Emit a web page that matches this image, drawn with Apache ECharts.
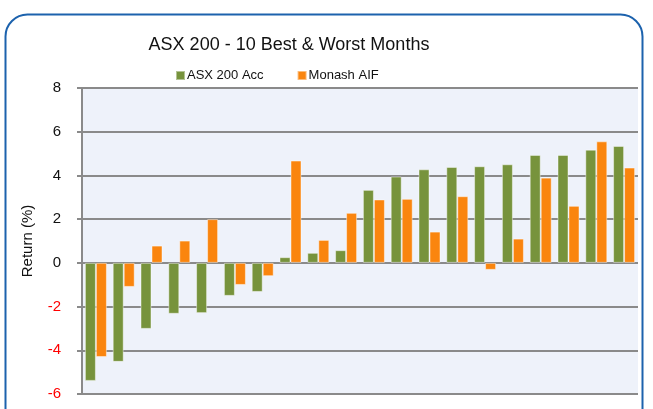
<!DOCTYPE html>
<html>
<head>
<meta charset="utf-8">
<script src="https://cdn.jsdelivr.net/npm/echarts@6/dist/echarts.min.js"></script>
<style>
html,body{margin:0;padding:0;background:#fff;}
#chart{width:653px;height:409px;}
</style>
</head>
<body>
<div id="chart"></div>
<script>
var months = ['1','2','3','4','5','6','7','8','9','10','11','12','13','14','15','16','17','18','19','20'];
var asxAcc = [-5.4, -4.53, -3.02, -2.33, -2.3, -1.51, -1.33, 0.26, 0.46, 0.58, 3.34, 3.95, 4.28, 4.39, 4.42, 4.51, 4.94, 4.94, 5.18, 5.35];
var monashAif = [-4.31, -1.1, 0.79, 1.02, 2.0, -1.01, -0.61, 4.68, 1.05, 2.29, 2.9, 2.93, 1.43, 3.05, -0.32, 1.11, 3.9, 2.61, 5.56, 4.36];
var yTicks = [-6, -4, -2, 0, 2, 4, 6, 8];

var font = 'Liberation Sans';

var option = {
  animation: false,
  title: {
    text: 'ASX 200 - 10 Best & Worst Months',
    left: 284, top: 31, textAlign: 'center',
    textStyle: {fontFamily: font, fontSize: 18, fontWeight: 'normal', color: '#111'}
  },
  legend: {
    left: 170, top: 64,
    itemGap: 33,
    itemWidth: 9, itemHeight: 9,
    icon: 'rect',
    textStyle: {fontFamily: font, fontSize: 13, color: '#111', padding: [0, 0, 0, -3]},
    data: ['ASX 200 Acc', 'Monash AIF']
  },
  graphic: [{
    type: 'rect',
    shape: {x: 5.5, y: 14.5, width: 637, height: 420, r: 22},
    style: {fill: 'none', stroke: '#1c62ad', lineWidth: 2},
    z: -1
  }],
  grid: {
    left: 82, right: 15, top: 88, bottom: 15,
    show: true, backgroundColor: '#eef2fa', borderWidth: 0
  },
  xAxis: {
    type: 'category',
    data: months,
    axisLine: {show: false},
    axisTick: {show: false},
    axisLabel: {show: false}
  },
  yAxis: {
    type: 'value',
    min: yTicks[0], max: yTicks[yTicks.length - 1], interval: 2,
    name: 'Return (%)',
    nameLocation: 'middle',
    nameGap: 47,
    nameTextStyle: {fontFamily: font, fontSize: 15, color: '#111'},
    axisLine: {show: true, lineStyle: {color: '#8a8a8a', width: 2}},
    axisTick: {show: true, length: 5, lineStyle: {color: '#8a8a8a', width: 2}},
    splitLine: {show: true, lineStyle: {color: '#8a8a8a', width: 2}},
    axisLabel: {
      fontFamily: font, fontSize: 15, margin: 21,
      color: function (v) { return v < 0 ? '#ff0000' : '#111'; }
    }
  },
  series: [{
    name: 'ASX 200 Acc',
    type: 'bar',
    barWidth: 11,
    barGap: '0%',
    itemStyle: {color: '#77933c', borderColor: 'rgba(255,255,255,0.45)', borderWidth: 1},
    data: asxAcc
  }, {
    name: 'Monash AIF',
    type: 'bar',
    barWidth: 11,
    itemStyle: {color: '#fa850e', borderColor: 'rgba(255,255,255,0.45)', borderWidth: 1},
    data: monashAif
  }]
};

var myChart = echarts.init(document.getElementById('chart'));
myChart.setOption(option);
</script>
</body>
</html>
